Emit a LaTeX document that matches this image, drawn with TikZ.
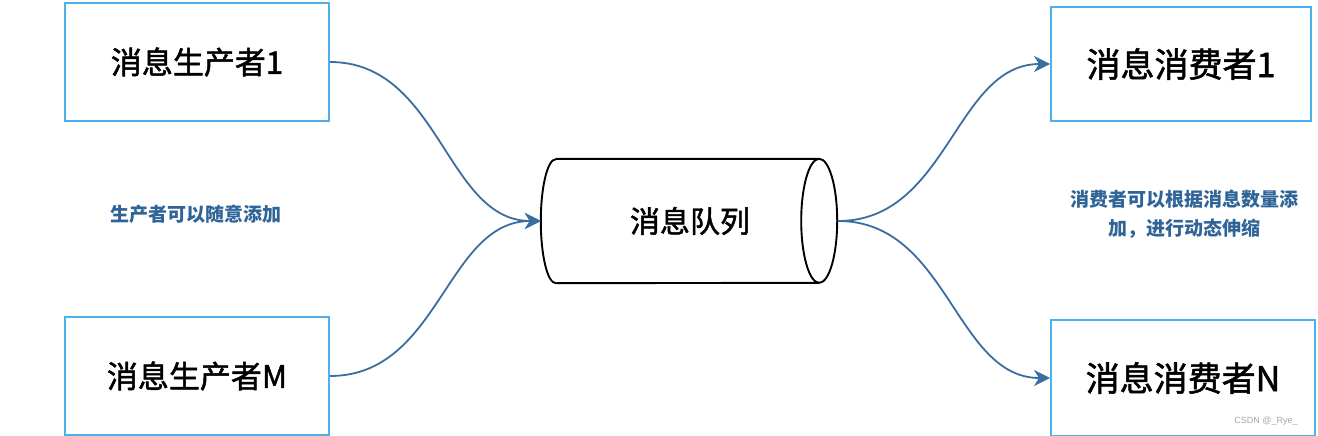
\documentclass[tikz,border=0pt]{standalone}
\usepackage{fontspec}
\setmainfont{Noto Sans CJK SC}
\newfontfamily\medfont{Noto Sans CJK SC}[FakeBold=1.6]
\newfontfamily\wmfont{Liberation Sans}
\usetikzlibrary{arrows.meta}
\definecolor{boxblue}{HTML}{4DB2EA}
\definecolor{arrowblue}{HTML}{3A6EA0}
\definecolor{labelblue}{HTML}{2F6497}
\begin{document}
\begin{tikzpicture}[x=1pt,y=-1pt,
  box/.style={draw=boxblue, line width=2pt, minimum width=264pt, minimum height=118pt, inner sep=0pt},
  conn/.style={draw=arrowblue, line width=1.8pt, -{Stealth[length=16pt,width=16pt,inset=5pt]}},
  note/.style={text=labelblue, font=\bfseries\fontsize{19}{29}\selectfont, align=center}]
\useasboundingbox (0,0) rectangle (1318,436);
\node[box, font=\medfont\fontsize{31}{36}\selectfont] (p1) at (197,62) {消息生产者1};
\node[box, font=\medfont\fontsize{31}{36}\selectfont] (pm) at (197,376) {消息生产者M};
\node[box, minimum width=260pt, minimum height=114pt, font=\medfont\fontsize{34}{36}\selectfont] (c1) at (1181,64) {消息消费者1};
\node[box, minimum height=116pt, font=\medfont\fontsize{34}{36}\selectfont] (cn) at (1183,378) {消息消费者N};
% queue (cylinder)
\node[minimum width=297pt, minimum height=124pt, inner sep=0pt] (q) at (689.5,221) {};
\node[font=\medfont\fontsize{30}{36}\selectfont] (qt) at (690,221) {消息队列};
\draw[line width=1.9pt]
  ([xshift=15pt]q.north west) -- ([xshift=-19pt]q.north east)
  arc[start angle=90, end angle=-270, x radius=18pt, y radius=62pt]
  ([xshift=-19pt]q.north east) arc[start angle=90, end angle=-90, x radius=18pt, y radius=62pt]
  -- ([xshift=15pt]q.south west)
  arc[start angle=-90, end angle=-270, x radius=15pt, y radius=62pt];
% connectors
\draw[conn] (p1.east) .. controls +(110,0) and +(-95,0) .. (q.west);
\draw[conn] (pm.east) .. controls +(110,0) and +(-95,0) .. (q.west);
\draw[conn] (q.east) .. controls +(110,0) and +(-95,0) .. (c1.west);
\draw[conn] (q.east) .. controls +(110,0) and +(-95,0) .. (cn.west);
% notes
\node[note] (n1) at (196,214) {生产者可以随意添加};
\node[note] (n2) at (1184,214) {消费者可以根据消息数量添\\加，进行动态伸缩};
\node[text=gray!70, font=\wmfont\fontsize{9}{10}\selectfont] (wm) at (1266,421) {CSDN @\_Rye\_};
\end{tikzpicture}
\end{document}
